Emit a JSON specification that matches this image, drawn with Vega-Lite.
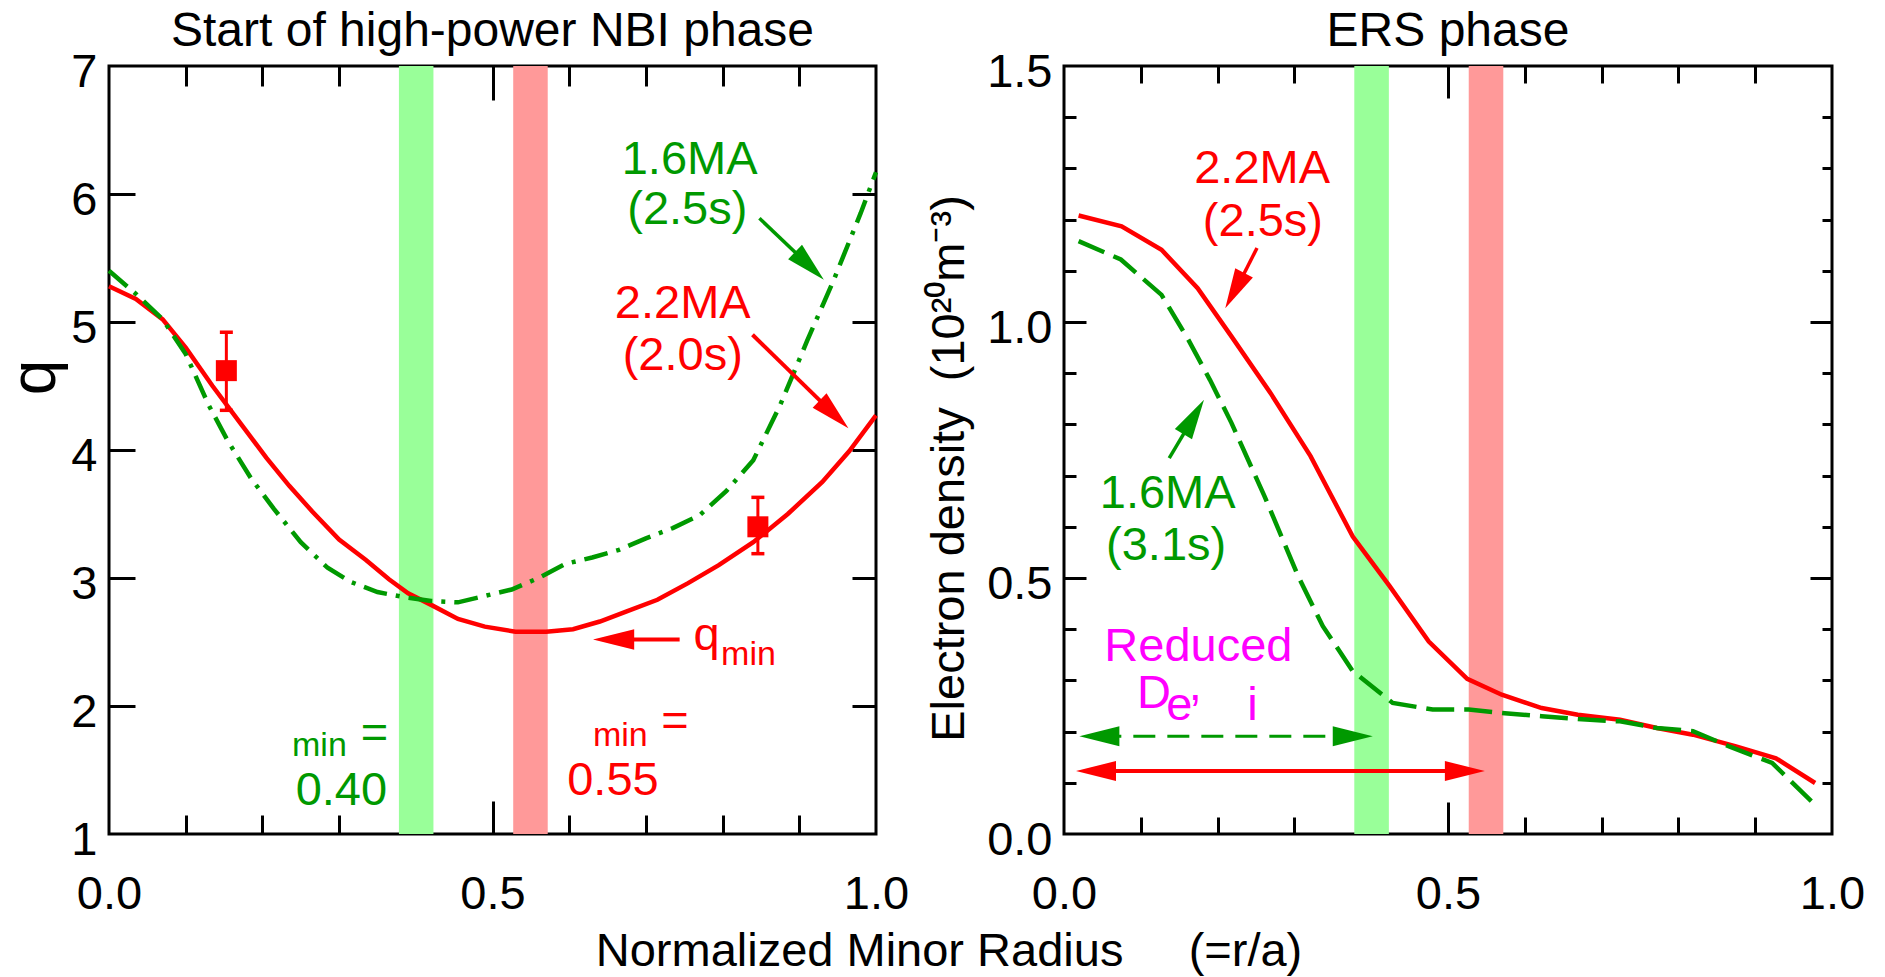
{
  "$schema": "https://vega.github.io/schema/vega-lite/v6.json",
  "background": "white",
  "padding": {"left": 1, "top": 6, "right": 0, "bottom": 0},
  "spacing": 188,
  "bounds": "flush",
  "config": {
    "font": "Liberation Sans",
    "view": {"stroke": "black", "strokeWidth": 3},
    "axis": {"grid": false, "domain": false, "labelFont": "Liberation Sans", "labelFontSize": 47, "labelColor": "black", "labelFlush": false, "labelOverlap": false, "labelBound": false, "tickColor": "black", "tickWidth": 3, "titleFont": "Liberation Sans", "titleFontWeight": "normal", "titleColor": "black"},
    "title": {"font": "Liberation Sans", "fontSize": 48, "fontWeight": "normal", "color": "black"}
  },
  "hconcat": [
    {
      "width": 767,
      "height": 768,
      "title": {"text": "Start of high-power NBI phase", "frame": "group", "baseline": "alphabetic", "offset": -46, "anchor": "middle"},
      "resolve": {"axis": {"x": "independent", "y": "independent"}},
      "layer": [
        {
          "data": {"values": [{"lo": 0.378, "hi": 0.423}]},
          "mark": {"type": "rect", "color": "#99ff99"},
          "encoding": {
            "x": {"field": "lo", "type": "quantitative", "scale": {"domain": [0, 1], "nice": false, "zero": false},
              "axis": {"orient": "bottom", "values": [0, 0.5, 1], "format": ".1f", "tickSize": 0, "labelPadding": 74, "labelBaseline": "alphabetic",
                "title": "Normalized Minor Radius\u00a0\u00a0\u00a0\u00a0\u00a0(=r/a)", "titleFontSize": 47, "titleX": 839.5, "titleY": 131, "titleAlign": "center", "titleBaseline": "alphabetic", "titleAngle": 0}},
            "x2": {"field": "hi"}
          }
        },
        {
          "data": {"values": [{"lo": 0.527, "hi": 0.572}]},
          "mark": {"type": "rect", "color": "#ff9999"},
          "encoding": {
            "x": {"field": "lo", "type": "quantitative", "scale": {"domain": [0, 1], "nice": false, "zero": false},
              "axis": {"orient": "top", "values": [0.5], "tickSize": -34, "labels": false, "title": null}},
            "x2": {"field": "hi"}
          }
        },
        {
          "data": {"values": [
            {"r": 0, "q": 5.28}, {"r": 0.035, "q": 5.18}, {"r": 0.07, "q": 5.02}, {"r": 0.1, "q": 4.8}, {"r": 0.135, "q": 4.5},
            {"r": 0.17, "q": 4.22}, {"r": 0.205, "q": 3.94}, {"r": 0.235, "q": 3.72}, {"r": 0.265, "q": 3.52}, {"r": 0.3, "q": 3.3},
            {"r": 0.335, "q": 3.14}, {"r": 0.365, "q": 2.99}, {"r": 0.39, "q": 2.88}, {"r": 0.42, "q": 2.79}, {"r": 0.455, "q": 2.68},
            {"r": 0.49, "q": 2.62}, {"r": 0.53, "q": 2.58}, {"r": 0.57, "q": 2.58}, {"r": 0.605, "q": 2.6}, {"r": 0.64, "q": 2.66},
            {"r": 0.675, "q": 2.74}, {"r": 0.715, "q": 2.83}, {"r": 0.755, "q": 2.96}, {"r": 0.795, "q": 3.1}, {"r": 0.84, "q": 3.28},
            {"r": 0.885, "q": 3.5}, {"r": 0.93, "q": 3.75}, {"r": 0.965, "q": 3.99}, {"r": 1.0, "q": 4.27}
          ]},
          "mark": {"type": "line", "color": "#ff0000", "strokeWidth": 4.5},
          "encoding": {
            "x": {"field": "r", "type": "quantitative", "scale": {"domain": [0, 1], "nice": false, "zero": false},
              "axis": {"orient": "bottom", "values": [0.1, 0.2, 0.3, 0.4, 0.6, 0.7, 0.8, 0.9], "tickSize": -19, "labels": false, "title": null}},
            "y": {"field": "q", "type": "quantitative", "scale": {"domain": [1, 7], "nice": false, "zero": false},
              "axis": {"orient": "left", "values": [1, 2, 3, 4, 5, 6, 7], "tickSize": 0, "labelPadding": 12, "labelBaseline": "alphabetic", "labelOffset": 20,
                "title": "q", "titleFontSize": 64, "titleX": -74, "titleY": 311, "titleAngle": 270, "titleAlign": "center", "titleBaseline": "middle"}}
          }
        },
        {
          "data": {"values": [
            {"r": 0, "q": 5.4}, {"r": 0.035, "q": 5.22}, {"r": 0.07, "q": 5.02}, {"r": 0.1, "q": 4.75}, {"r": 0.13, "q": 4.35},
            {"r": 0.155, "q": 4.07}, {"r": 0.185, "q": 3.78}, {"r": 0.215, "q": 3.54}, {"r": 0.25, "q": 3.28}, {"r": 0.285, "q": 3.08},
            {"r": 0.315, "q": 2.97}, {"r": 0.35, "q": 2.89}, {"r": 0.385, "q": 2.85}, {"r": 0.42, "q": 2.82}, {"r": 0.455, "q": 2.81},
            {"r": 0.49, "q": 2.86}, {"r": 0.525, "q": 2.91}, {"r": 0.56, "q": 3.0}, {"r": 0.595, "q": 3.11}, {"r": 0.63, "q": 3.16},
            {"r": 0.665, "q": 3.22}, {"r": 0.7, "q": 3.31}, {"r": 0.735, "q": 3.39}, {"r": 0.77, "q": 3.49}, {"r": 0.805, "q": 3.68},
            {"r": 0.84, "q": 3.92}, {"r": 0.875, "q": 4.35}, {"r": 0.91, "q": 4.85}, {"r": 0.945, "q": 5.33}, {"r": 0.98, "q": 5.85},
            {"r": 1.0, "q": 6.17}
          ]},
          "mark": {"type": "line", "color": "#009900", "strokeWidth": 4.5, "strokeDash": [24, 9, 4, 9]},
          "encoding": {
            "x": {"field": "r", "type": "quantitative", "scale": {"domain": [0, 1], "nice": false, "zero": false},
              "axis": {"orient": "top", "values": [0.1, 0.2, 0.3, 0.4, 0.6, 0.7, 0.8, 0.9], "tickSize": -20, "labels": false, "title": null}},
            "y": {"field": "q", "type": "quantitative", "scale": {"domain": [1, 7], "nice": false, "zero": false},
              "axis": {"orient": "left", "values": [2, 3, 4, 5, 6], "tickSize": -26, "labels": false, "title": null}}
          }
        },
        {
          "data": {"values": [{"r": 0.153, "q": 4.62}, {"r": 0.846, "q": 3.4}]},
          "mark": {"type": "point", "shape": "square", "filled": true, "color": "#ff0000", "opacity": 1, "size": 441},
          "encoding": {
            "x": {"field": "r", "type": "quantitative", "scale": {"domain": [0, 1], "nice": false, "zero": false},
              "axis": {"orient": "bottom", "values": [0.5], "tickSize": -33, "labels": false, "title": null}},
            "y": {"field": "q", "type": "quantitative", "scale": {"domain": [1, 7], "nice": false, "zero": false},
              "axis": {"orient": "right", "values": [2, 3, 4, 5, 6], "tickSize": -24, "labels": false, "title": null}}
          }
        },
        {
          "data": {"values": [{"r": 0.153, "lo": 4.31, "hi": 4.92}, {"r": 0.846, "lo": 3.19, "hi": 3.63}]},
          "mark": {"type": "rule", "color": "#ff0000", "strokeWidth": 3},
          "encoding": {
            "x": {"field": "r", "type": "quantitative", "scale": {"domain": [0, 1], "nice": false, "zero": false}, "axis": null},
            "y": {"field": "lo", "type": "quantitative", "scale": {"domain": [1, 7], "nice": false, "zero": false}, "axis": null},
            "y2": {"field": "hi"}
          }
        },
        {
          "data": {"values": [{"r": 0.153, "v": 4.31}, {"r": 0.153, "v": 4.92}, {"r": 0.846, "v": 3.19}, {"r": 0.846, "v": 3.63}]},
          "mark": {"type": "tick", "orient": "horizontal", "color": "#ff0000", "size": 13, "thickness": 3.5, "opacity": 1},
          "encoding": {
            "x": {"field": "r", "type": "quantitative", "scale": {"domain": [0, 1], "nice": false, "zero": false}, "axis": null},
            "y": {"field": "v", "type": "quantitative", "scale": {"domain": [1, 7], "nice": false, "zero": false}, "axis": null}
          }
        },
        {
          "data": {"values": [{"r1": 0.848, "q1": 5.81, "r2": 0.9133, "q2": 5.438}]},
          "mark": {"type": "rule", "color": "#009900", "strokeWidth": 3.5},
          "encoding": {
            "x": {"field": "r1", "type": "quantitative", "scale": {"domain": [0, 1], "nice": false, "zero": false}, "axis": null},
            "y": {"field": "q1", "type": "quantitative", "scale": {"domain": [1, 7], "nice": false, "zero": false}, "axis": null},
            "x2": {"field": "r2"},
            "y2": {"field": "q2"}
          }
        },
        {
          "data": {"values": [{"r1": 0.839, "q1": 4.9, "r2": 0.945, "q2": 4.28}, {"r1": 0.744, "q1": 2.52, "r2": 0.657, "q2": 2.52}]},
          "mark": {"type": "rule", "color": "#ff0000", "strokeWidth": 4},
          "encoding": {
            "x": {"field": "r1", "type": "quantitative", "scale": {"domain": [0, 1], "nice": false, "zero": false}, "axis": null},
            "y": {"field": "q1", "type": "quantitative", "scale": {"domain": [1, 7], "nice": false, "zero": false}, "axis": null},
            "x2": {"field": "r2"},
            "y2": {"field": "q2"}
          }
        },
        {
          "data": {"values": [{"r": 0.932, "q": 5.33}]},
          "mark": {"type": "point", "shape": "M0,0L0.5,2L-0.5,2Z", "size": 1600, "filled": true, "opacity": 1, "strokeWidth": 0, "color": "#009900", "angle": 134},
          "encoding": {
            "x": {"field": "r", "type": "quantitative", "scale": {"domain": [0, 1], "nice": false, "zero": false}, "axis": null},
            "y": {"field": "q", "type": "quantitative", "scale": {"domain": [1, 7], "nice": false, "zero": false}, "axis": null}
          }
        },
        {
          "data": {"values": [{"r": 0.964, "q": 4.17}]},
          "mark": {"type": "point", "shape": "M0,0L0.5,2L-0.5,2Z", "size": 1600, "filled": true, "opacity": 1, "strokeWidth": 0, "color": "#ff0000", "angle": 134},
          "encoding": {
            "x": {"field": "r", "type": "quantitative", "scale": {"domain": [0, 1], "nice": false, "zero": false}, "axis": null},
            "y": {"field": "q", "type": "quantitative", "scale": {"domain": [1, 7], "nice": false, "zero": false}, "axis": null}
          }
        },
        {
          "data": {"values": [{"r": 0.631, "q": 2.52}]},
          "mark": {"type": "point", "shape": "M0,0L0.5,2L-0.5,2Z", "size": 1700, "filled": true, "opacity": 1, "strokeWidth": 0, "color": "#ff0000", "angle": 270},
          "encoding": {
            "x": {"field": "r", "type": "quantitative", "scale": {"domain": [0, 1], "nice": false, "zero": false}, "axis": null},
            "y": {"field": "q", "type": "quantitative", "scale": {"domain": [1, 7], "nice": false, "zero": false}, "axis": null}
          }
        },
        {
          "data": {"values": [{"t": "1.6MA", "r": 0.757, "q": 6.156}, {"t": "(2.5s)", "r": 0.754, "q": 5.766}, {"t": "=", "r": 0.346, "q": 1.672}, {"t": "0.40", "r": 0.303, "q": 1.227}]},
          "mark": {"type": "text", "color": "#009900", "fontSize": 47, "font": "Liberation Sans", "align": "center", "baseline": "alphabetic"},
          "encoding": {
            "x": {"field": "r", "type": "quantitative", "scale": {"domain": [0, 1], "nice": false, "zero": false}, "axis": null},
            "y": {"field": "q", "type": "quantitative", "scale": {"domain": [1, 7], "nice": false, "zero": false}, "axis": null},
            "text": {"field": "t"}
          }
        },
        {
          "data": {"values": [{"t": "2.2MA", "r": 0.748, "q": 5.031}, {"t": "(2.0s)", "r": 0.748, "q": 4.625}, {"t": "q", "r": 0.779, "q": 2.4375}, {"t": "=", "r": 0.738, "q": 1.766}, {"t": "0.55", "r": 0.657, "q": 1.305}]},
          "mark": {"type": "text", "color": "#ff0000", "fontSize": 47, "font": "Liberation Sans", "align": "center", "baseline": "alphabetic"},
          "encoding": {
            "x": {"field": "r", "type": "quantitative", "scale": {"domain": [0, 1], "nice": false, "zero": false}, "axis": null},
            "y": {"field": "q", "type": "quantitative", "scale": {"domain": [1, 7], "nice": false, "zero": false}, "axis": null},
            "text": {"field": "t"}
          }
        },
        {
          "data": {"values": [{"t": "min", "r": 0.798, "q": 2.32}, {"t": "min", "r": 0.631, "q": 1.6875}]},
          "mark": {"type": "text", "color": "#ff0000", "fontSize": 34, "font": "Liberation Sans", "align": "left", "baseline": "alphabetic"},
          "encoding": {
            "x": {"field": "r", "type": "quantitative", "scale": {"domain": [0, 1], "nice": false, "zero": false}, "axis": null},
            "y": {"field": "q", "type": "quantitative", "scale": {"domain": [1, 7], "nice": false, "zero": false}, "axis": null},
            "text": {"field": "t"}
          }
        },
        {
          "data": {"values": [{"t": "min", "r": 0.2386, "q": 1.609}]},
          "mark": {"type": "text", "color": "#009900", "fontSize": 34, "font": "Liberation Sans", "align": "left", "baseline": "alphabetic"},
          "encoding": {
            "x": {"field": "r", "type": "quantitative", "scale": {"domain": [0, 1], "nice": false, "zero": false}, "axis": null},
            "y": {"field": "q", "type": "quantitative", "scale": {"domain": [1, 7], "nice": false, "zero": false}, "axis": null},
            "text": {"field": "t"}
          }
        }
      ]
    },
    {
      "width": 768,
      "height": 768,
      "title": {"text": "ERS phase", "frame": "group", "baseline": "alphabetic", "offset": -46, "anchor": "middle"},
      "resolve": {"axis": {"x": "independent", "y": "independent"}},
      "layer": [
        {
          "data": {"values": [{"lo": 0.378, "hi": 0.423}]},
          "mark": {"type": "rect", "color": "#99ff99"},
          "encoding": {
            "x": {"field": "lo", "type": "quantitative", "scale": {"domain": [0, 1], "nice": false, "zero": false},
              "axis": {"orient": "bottom", "values": [0, 0.5, 1], "format": ".1f", "tickSize": 0, "labelPadding": 74, "labelBaseline": "alphabetic", "title": null}},
            "x2": {"field": "hi"}
          }
        },
        {
          "data": {"values": [{"lo": 0.527, "hi": 0.572}]},
          "mark": {"type": "rect", "color": "#ff9999"},
          "encoding": {
            "x": {"field": "lo", "type": "quantitative", "scale": {"domain": [0, 1], "nice": false, "zero": false},
              "axis": {"orient": "top", "values": [0.5], "tickSize": -32, "labels": false, "title": null}},
            "x2": {"field": "hi"}
          }
        },
        {
          "data": {"values": [
            {"r": 0.019, "n": 1.208}, {"r": 0.075, "n": 1.187}, {"r": 0.127, "n": 1.141}, {"r": 0.174, "n": 1.066}, {"r": 0.218, "n": 0.972},
            {"r": 0.269, "n": 0.861}, {"r": 0.321, "n": 0.738}, {"r": 0.376, "n": 0.581}, {"r": 0.424, "n": 0.484}, {"r": 0.475, "n": 0.376},
            {"r": 0.525, "n": 0.303}, {"r": 0.57, "n": 0.272}, {"r": 0.622, "n": 0.246}, {"r": 0.669, "n": 0.233}, {"r": 0.724, "n": 0.223},
            {"r": 0.772, "n": 0.207}, {"r": 0.819, "n": 0.194}, {"r": 0.875, "n": 0.171}, {"r": 0.927, "n": 0.148}, {"r": 0.978, "n": 0.0996}
          ]},
          "mark": {"type": "line", "color": "#ff0000", "strokeWidth": 4.5},
          "encoding": {
            "x": {"field": "r", "type": "quantitative", "scale": {"domain": [0, 1], "nice": false, "zero": false},
              "axis": {"orient": "bottom", "values": [0.1, 0.2, 0.3, 0.4, 0.6, 0.7, 0.8, 0.9], "tickSize": -17, "labels": false, "title": null}},
            "y": {"field": "n", "type": "quantitative", "scale": {"domain": [0, 1.5], "nice": false, "zero": false},
              "axis": {"orient": "left", "values": [0, 0.5, 1, 1.5], "format": ".1f", "tickSize": 0, "labelPadding": 12, "labelBaseline": "alphabetic", "labelOffset": 20,
                "title": "Electron density\u00a0 (10²⁰m⁻³)", "titleFontSize": 47, "titleX": -101, "titleY": 402, "titleAngle": 270, "titleAlign": "center", "titleBaseline": "alphabetic"}}
          }
        },
        {
          "data": {"values": [
            {"r": 0.019, "n": 1.158}, {"r": 0.074, "n": 1.122}, {"r": 0.127, "n": 1.053}, {"r": 0.162, "n": 0.965}, {"r": 0.19, "n": 0.887},
            {"r": 0.218, "n": 0.803}, {"r": 0.261, "n": 0.66}, {"r": 0.305, "n": 0.503}, {"r": 0.337, "n": 0.406}, {"r": 0.376, "n": 0.318},
            {"r": 0.428, "n": 0.256}, {"r": 0.48, "n": 0.243}, {"r": 0.527, "n": 0.243}, {"r": 0.574, "n": 0.236}, {"r": 0.622, "n": 0.23},
            {"r": 0.685, "n": 0.223}, {"r": 0.724, "n": 0.22}, {"r": 0.772, "n": 0.207}, {"r": 0.819, "n": 0.201}, {"r": 0.866, "n": 0.171},
            {"r": 0.922, "n": 0.139}, {"r": 0.978, "n": 0.057}
          ]},
          "mark": {"type": "line", "color": "#009900", "strokeWidth": 4.5, "strokeDash": [28, 10]},
          "encoding": {
            "x": {"field": "r", "type": "quantitative", "scale": {"domain": [0, 1], "nice": false, "zero": false},
              "axis": {"orient": "top", "values": [0.1, 0.2, 0.3, 0.4, 0.6, 0.7, 0.8, 0.9], "tickSize": -17, "labels": false, "title": null}},
            "y": {"field": "n", "type": "quantitative", "scale": {"domain": [0, 1.5], "nice": false, "zero": false},
              "axis": {"orient": "left", "values": [0.5, 1.0], "tickSize": -22, "labels": false, "title": null}}
          }
        },
        {
          "data": {"values": [{"r1": 0.042, "r2": 0.522, "n": 0.123}]},
          "mark": {"type": "rule", "color": "#ff0000", "strokeWidth": 4},
          "encoding": {
            "x": {"field": "r1", "type": "quantitative", "scale": {"domain": [0, 1], "nice": false, "zero": false},
              "axis": {"orient": "bottom", "values": [0.5], "tickSize": -32, "labels": false, "title": null}},
            "x2": {"field": "r2"},
            "y": {"field": "n", "type": "quantitative", "scale": {"domain": [0, 1.5], "nice": false, "zero": false},
              "axis": {"orient": "left", "values": [0.1, 0.2, 0.3, 0.4, 0.6, 0.7, 0.8, 0.9, 1.1, 1.2, 1.3, 1.4], "tickSize": -12, "labels": false, "title": null}}
          }
        },
        {
          "data": {"values": [{"r1": 0.046, "r2": 0.376, "n": 0.191}]},
          "mark": {"type": "rule", "color": "#009900", "strokeWidth": 3, "strokeDash": [22, 12]},
          "encoding": {
            "x": {"field": "r1", "type": "quantitative", "scale": {"domain": [0, 1], "nice": false, "zero": false}, "axis": null},
            "x2": {"field": "r2"},
            "y": {"field": "n", "type": "quantitative", "scale": {"domain": [0, 1.5], "nice": false, "zero": false},
              "axis": {"orient": "right", "values": [0.5, 1.0], "tickSize": -22, "labels": false, "title": null}}
          }
        },
        {
          "data": {"values": [{"r1": 0.2513, "n1": 1.1445, "r2": 0.2234, "n2": 1.062}]},
          "mark": {"type": "rule", "color": "#ff0000", "strokeWidth": 3.5},
          "encoding": {
            "x": {"field": "r1", "type": "quantitative", "scale": {"domain": [0, 1], "nice": false, "zero": false}, "axis": null},
            "y": {"field": "n1", "type": "quantitative", "scale": {"domain": [0, 1.5], "nice": false, "zero": false},
              "axis": {"orient": "right", "values": [0.1, 0.2, 0.3, 0.4, 0.6, 0.7, 0.8, 0.9, 1.1, 1.2, 1.3, 1.4], "tickSize": -10, "labels": false, "title": null}},
            "x2": {"field": "r2"},
            "y2": {"field": "n2"}
          }
        },
        {
          "data": {"values": [{"r1": 0.137, "n1": 0.734, "r2": 0.169, "n2": 0.8147}]},
          "mark": {"type": "rule", "color": "#009900", "strokeWidth": 3.5},
          "encoding": {
            "x": {"field": "r1", "type": "quantitative", "scale": {"domain": [0, 1], "nice": false, "zero": false}, "axis": null},
            "y": {"field": "n1", "type": "quantitative", "scale": {"domain": [0, 1.5], "nice": false, "zero": false}, "axis": null},
            "x2": {"field": "r2"},
            "y2": {"field": "n2"}
          }
        },
        {
          "data": {"values": [{"r": 0.0156, "n": 0.123}]},
          "mark": {"type": "point", "shape": "M0,0L0.5,2L-0.5,2Z", "size": 1600, "filled": true, "opacity": 1, "strokeWidth": 0, "color": "#ff0000", "angle": 270},
          "encoding": {
            "x": {"field": "r", "type": "quantitative", "scale": {"domain": [0, 1], "nice": false, "zero": false}, "axis": null},
            "y": {"field": "n", "type": "quantitative", "scale": {"domain": [0, 1.5], "nice": false, "zero": false}, "axis": null}
          }
        },
        {
          "data": {"values": [{"r": 0.548, "n": 0.123}]},
          "mark": {"type": "point", "shape": "M0,0L0.5,2L-0.5,2Z", "size": 1600, "filled": true, "opacity": 1, "strokeWidth": 0, "color": "#ff0000", "angle": 90},
          "encoding": {
            "x": {"field": "r", "type": "quantitative", "scale": {"domain": [0, 1], "nice": false, "zero": false}, "axis": null},
            "y": {"field": "n", "type": "quantitative", "scale": {"domain": [0, 1.5], "nice": false, "zero": false}, "axis": null}
          }
        },
        {
          "data": {"values": [{"r": 0.02, "n": 0.191}]},
          "mark": {"type": "point", "shape": "M0,0L0.5,2L-0.5,2Z", "size": 1600, "filled": true, "opacity": 1, "strokeWidth": 0, "color": "#009900", "angle": 270},
          "encoding": {
            "x": {"field": "r", "type": "quantitative", "scale": {"domain": [0, 1], "nice": false, "zero": false}, "axis": null},
            "y": {"field": "n", "type": "quantitative", "scale": {"domain": [0, 1.5], "nice": false, "zero": false}, "axis": null}
          }
        },
        {
          "data": {"values": [{"r": 0.402, "n": 0.191}]},
          "mark": {"type": "point", "shape": "M0,0L0.5,2L-0.5,2Z", "size": 1600, "filled": true, "opacity": 1, "strokeWidth": 0, "color": "#009900", "angle": 90},
          "encoding": {
            "x": {"field": "r", "type": "quantitative", "scale": {"domain": [0, 1], "nice": false, "zero": false}, "axis": null},
            "y": {"field": "n", "type": "quantitative", "scale": {"domain": [0, 1.5], "nice": false, "zero": false}, "axis": null}
          }
        },
        {
          "data": {"values": [{"r": 0.21, "n": 1.027}]},
          "mark": {"type": "point", "shape": "M0,0L0.5,2L-0.5,2Z", "size": 1600, "filled": true, "opacity": 1, "strokeWidth": 0, "color": "#ff0000", "angle": 208},
          "encoding": {
            "x": {"field": "r", "type": "quantitative", "scale": {"domain": [0, 1], "nice": false, "zero": false}, "axis": null},
            "y": {"field": "n", "type": "quantitative", "scale": {"domain": [0, 1.5], "nice": false, "zero": false}, "axis": null}
          }
        },
        {
          "data": {"values": [{"r": 0.1823, "n": 0.848}]},
          "mark": {"type": "point", "shape": "M0,0L0.5,2L-0.5,2Z", "size": 1600, "filled": true, "opacity": 1, "strokeWidth": 0, "color": "#009900", "angle": 31},
          "encoding": {
            "x": {"field": "r", "type": "quantitative", "scale": {"domain": [0, 1], "nice": false, "zero": false}, "axis": null},
            "y": {"field": "n", "type": "quantitative", "scale": {"domain": [0, 1.5], "nice": false, "zero": false}, "axis": null}
          }
        },
        {
          "data": {"values": [{"t": "2.2MA", "r": 0.258, "n": 1.2715}, {"t": "(2.5s)", "r": 0.259, "n": 1.168}]},
          "mark": {"type": "text", "color": "#ff0000", "fontSize": 47, "font": "Liberation Sans", "align": "center", "baseline": "alphabetic"},
          "encoding": {
            "x": {"field": "r", "type": "quantitative", "scale": {"domain": [0, 1], "nice": false, "zero": false}, "axis": null},
            "y": {"field": "n", "type": "quantitative", "scale": {"domain": [0, 1.5], "nice": false, "zero": false}, "axis": null},
            "text": {"field": "t"}
          }
        },
        {
          "data": {"values": [{"t": "1.6MA", "r": 0.135, "n": 0.637}, {"t": "(3.1s)", "r": 0.133, "n": 0.535}]},
          "mark": {"type": "text", "color": "#009900", "fontSize": 47, "font": "Liberation Sans", "align": "center", "baseline": "alphabetic"},
          "encoding": {
            "x": {"field": "r", "type": "quantitative", "scale": {"domain": [0, 1], "nice": false, "zero": false}, "axis": null},
            "y": {"field": "n", "type": "quantitative", "scale": {"domain": [0, 1.5], "nice": false, "zero": false}, "axis": null},
            "text": {"field": "t"}
          }
        },
        {
          "data": {"values": [{"t": "Reduced", "r": 0.175, "n": 0.338}, {"t": "D", "r": 0.117, "n": 0.246}, {"t": "e", "r": 0.15, "n": 0.223}, {"t": ",", "r": 0.171, "n": 0.262}, {"t": "i", "r": 0.2454, "n": 0.223}]},
          "mark": {"type": "text", "color": "#ff00ff", "fontSize": 47, "font": "Liberation Sans", "align": "center", "baseline": "alphabetic"},
          "encoding": {
            "x": {"field": "r", "type": "quantitative", "scale": {"domain": [0, 1], "nice": false, "zero": false}, "axis": null},
            "y": {"field": "n", "type": "quantitative", "scale": {"domain": [0, 1.5], "nice": false, "zero": false}, "axis": null},
            "text": {"field": "t"}
          }
        }
      ]
    }
  ]
}
